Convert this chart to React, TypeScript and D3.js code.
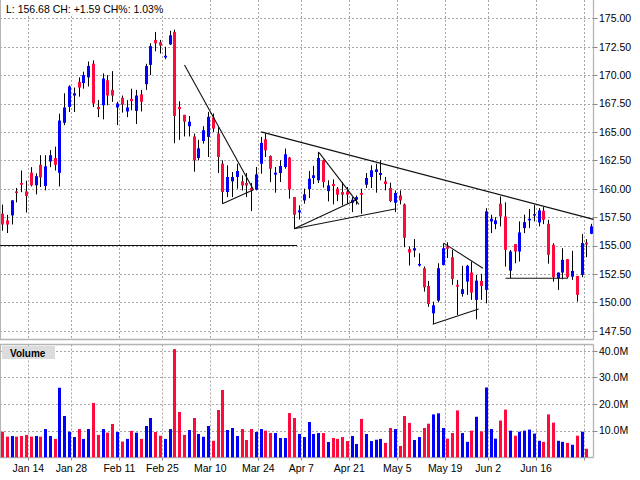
import React from 'react';
import * as d3 from 'd3';

const opens = [157.8,157.2,157.65,159.76,160.5,159.76,161.41,160.3,162.1,160.24,162.4,162.7,161.4,165.8,167.2,168.2,169.4,169.3,169.8,171.0,167.2,167.35,169.55,168.7,167.15,168.0,166.8,167.9,166.85,168.3,169.2,170.9,173.1,172.9,171.55,172.7,173.8,167.2,166.5,165.5,164.6,162.7,164.2,164.56,166.26,164.85,162.2,159.71,160.65,161.03,160.65,160.5,160.06,159.91,162.2,164.35,162.88,161.24,161.38,161.91,162.74,159.26,157.91,158.97,159.97,160.94,160.74,162.5,159.79,160.41,160.0,159.71,159.76,158.76,159.03,159.62,160.35,161.03,161.47,161.21,160.65,160.06,158.76,159.41,158.62,154.68,154.56,153.24,153.0,151.44,149.03,150.15,153.29,154.91,153.97,151.53,150.74,151.82,152.62,150.21,151.88,151.09,157.12,156.88,158.68,157.56,152.79,155.12,154.47,156.53,157.21,157.65,157.03,158.06,156.91,155.06,152.12,152.62,153.79,152.26,152.32,152.41,155.25,156.03];
const highs = [158.6,157.7,159.0,160.06,161.6,160.7,161.9,161.35,162.95,162.95,163.4,163.7,166.6,168.4,169.1,168.9,169.8,170.3,171.2,171.3,167.8,170.15,170.0,170.35,167.65,168.2,167.8,168.8,168.7,168.7,171.0,172.8,173.8,173.1,172.5,173.9,174.0,167.7,166.5,166.4,164.85,164.3,165.5,166.76,166.62,165.44,162.5,162.06,161.47,162.2,161.18,161.38,160.5,161.91,164.56,164.85,162.94,161.91,162.5,163.53,162.79,159.26,158.53,160.0,161.56,162.0,163.24,162.56,160.74,160.82,160.15,160.59,160.15,159.26,159.4,160.0,161.38,162.06,162.2,162.5,161.03,160.53,159.85,159.85,158.7,154.91,155.56,154.32,153.15,151.88,150.06,153.44,155.2,155.29,154.62,151.97,153.21,153.29,153.59,152.41,152.5,158.29,157.71,157.5,159.32,158.8,154.6,155.12,157.12,157.71,158.21,158.59,158.29,158.38,157.26,155.2,152.62,154.76,153.79,154.53,152.32,156.0,155.56,156.91];
const lows = [156.3,156.1,156.85,158.8,159.7,157.9,160.2,159.5,160.15,159.85,161.9,161.6,160.2,165.6,166.75,166.75,168.1,168.8,169.0,167.2,166.3,166.1,167.35,167.65,165.6,166.7,166.3,166.9,165.7,166.8,168.7,170.0,172.1,171.9,171.4,172.65,164.0,164.3,164.6,164.6,161.5,162.5,163.97,162.79,165.0,161.38,158.68,159.26,159.26,160.0,159.85,159.26,158.03,159.85,161.32,162.79,160.59,159.65,160.59,161.76,159.12,156.47,157.29,158.68,159.18,160.41,160.5,160.09,158.88,158.62,158.91,158.53,158.68,157.94,158.6,157.79,160.06,160.06,159.65,160.74,159.85,158.82,157.94,158.62,154.85,153.24,153.97,153.15,150.94,149.6,148.09,150.0,153.24,153.9,151.53,148.88,150.5,150.65,150.21,148.5,150.21,149.91,156.09,156.44,156.68,153.15,152.12,153.44,153.59,156.09,156.53,157.12,156.68,156.88,153.4,151.82,151.09,152.03,152.12,151.97,150.06,152.21,153.97,156.0];
const closes = [156.85,156.85,158.97,159.62,160.35,159.35,160.3,161.1,161.0,161.97,162.95,162.1,166.0,167.15,169.0,168.4,168.9,170.0,170.8,167.5,167.0,169.7,168.2,168.2,167.5,167.4,167.15,167.7,168.2,167.65,170.8,172.55,172.8,172.6,171.7,173.5,166.4,167.0,165.9,165.9,162.5,163.55,165.15,166.32,165.29,162.79,159.71,161.03,161.03,161.56,160.29,160.29,159.85,161.26,164.03,163.38,161.76,161.41,162.0,163.03,159.94,157.71,158.09,159.5,160.88,161.18,162.71,160.59,160.29,160.24,159.47,159.47,159.47,159.03,159.26,159.47,160.94,161.62,161.7,161.38,160.41,158.91,159.62,158.97,155.68,154.38,154.76,153.38,151.32,149.85,149.74,153.0,154.76,154.71,152.06,151.38,151.15,153.21,150.85,151.91,151.44,158.0,157.35,157.21,157.56,154.62,154.47,154.47,156.15,157.06,157.35,157.76,158.09,157.26,154.18,152.21,152.62,153.74,152.21,152.76,150.65,155.21,155.09,156.68];
const volumes = [9.6,7.75,8.0,7.75,8.0,8.4,7.75,8.0,7.75,10.6,8.0,6.9,26.1,15.5,9.6,7.6,10.6,6.9,10.6,20.4,8.4,10.6,9.25,12.5,9.5,5.9,6.9,9.9,9.25,6.9,11.75,14.75,9.5,8.1,6.9,10.6,40.6,17.0,8.4,10.25,14.75,8.75,7.7,11.75,6.2,17.75,25.25,10.25,11.0,8.0,10.6,6.5,10.6,9.5,10.6,10.0,9.1,9.1,7.25,7.25,16.6,14.75,8.75,7.6,13.25,8.75,9.1,9.1,5.75,7.25,6.9,7.6,6.1,8.0,5.0,14.4,8.75,6.1,6.6,6.9,5.4,11.0,10.6,4.25,15.5,12.9,6.5,7.6,11.0,12.6,16.1,16.5,11.0,7.0,9.1,17.6,9.1,5.8,10.0,15.2,9.7,26.2,10.6,7.0,13.8,17.9,10.0,8.1,9.6,10.0,10.4,8.9,6.2,5.8,16.1,13.0,6.2,5.8,5.4,4.7,8.1,9.6,3.2,0];

const priceTicks = [147.5,150,152.5,155,157.5,160,162.5,165,167.5,170,172.5,175];
const volumeTicks = [10,20,30,40];
const dateLabels = ['Jan 14','Jan 28','Feb 11','Feb 25','Mar 10','Mar 24','Apr 7','Apr 21','May 5','May 19','Jun 2','Jun 16',''];
const dateIndex = [6,15,25,34,44,54,63,73,83,93,102,112,122];

// trend lines: [startIndex, startPrice, endIndex, endPrice]
const trendLines = [
  [-0.5,155.0,61.6,155.0],
  [38.1,170.88,52.5,159.9],
  [46.0,158.68,52.5,159.9],
  [54.1,165.0,123.5,157.3],
  [61.0,156.47,74.1,159.06],
  [61.0,156.47,82.3,158.24],
  [66.2,163.18,74.5,158.62],
  [92.2,155.21,100.4,153.0],
  [89.9,148.06,99.5,149.41],
  [105.1,152.12,118.1,152.12],
];

const BLUE = '#0000ff';
const RED = '#ff0a3c';
const GRID = '#a6a6a6';
const FRAME = '#b4b4b4';
const FONT = '"Liberation Sans", Arial, sans-serif';

export default function App() {
  const W = 640, H = 480;
  const plotRight = 593.5;
  const pTop = 0, pBottom = 339;
  const vTop = 344.5, vBottom = 457.5;
  const x = d3.scaleLinear().domain([0, 123]).range([2, 591.2]);
  const yP = d3.scaleLinear().domain([147.5, 175]).range([330.7, 18.3]);
  const yV = d3.scaleLinear().domain([0, 40]).range([457.3, 350.7]);
  const idx = d3.range(opens.length);
  const fmt = d3.format('.2f');

  return (
    <svg width={W} height={H} style={{ position: 'absolute', left: 0, top: 0, background: '#fff' }} fontFamily={FONT}>
      <rect x={0} y={0} width={W} height={H} fill="#fff" />
      {/* price gridlines */}
      {priceTicks.map((p) => (
        <line key={'pg' + p} x1={0} x2={plotRight} y1={Math.round(yP(p)) + 0.5} y2={Math.round(yP(p)) + 0.5}
          stroke={GRID} strokeDasharray="2,2" />
      ))}
      {volumeTicks.map((v) => (
        <line key={'vg' + v} x1={0} x2={plotRight} y1={Math.round(yV(v)) + 0.5} y2={Math.round(yV(v)) + 0.5}
          stroke={GRID} strokeDasharray="2,2" />
      ))}
      {dateIndex.map((d) => {
        const gx = Math.round(x(d - 0.5)) + 0.5;
        return (
          <g key={'dg' + d}>
            <line x1={gx} x2={gx} y1={pTop} y2={pBottom} stroke={GRID} strokeDasharray="2,2" />
            <line x1={gx} x2={gx} y1={vTop} y2={vBottom} stroke={GRID} strokeDasharray="2,2" />
            <line x1={gx} x2={gx} y1={vBottom} y2={vBottom + 3} stroke="#888" />
          </g>
        );
      })}
      {/* frames */}
      <line x1={0.5} x2={0.5} y1={0} y2={pBottom} stroke={FRAME} />
      <line x1={0} x2={plotRight} y1={pBottom + 0.5} y2={pBottom + 0.5} stroke={FRAME} strokeWidth={1.3} />
      <line x1={0.5} x2={0.5} y1={vTop} y2={vBottom} stroke={FRAME} />
      <line x1={0} x2={plotRight} y1={vTop} y2={vTop} stroke={FRAME} strokeWidth={1.3} />
      <line x1={0} x2={plotRight} y1={vBottom} y2={vBottom} stroke={FRAME} strokeWidth={1.3} />
      <line x1={plotRight} x2={plotRight} y1={0} y2={pBottom + 1} stroke={FRAME} strokeWidth={1.3} />
      <line x1={plotRight} x2={plotRight} y1={vTop} y2={vBottom} stroke={FRAME} strokeWidth={1.3} />

      {/* candles */}
      {idx.map((i) => {
        const up = closes[i] >= opens[i];
        const cx = Math.round(x(i));
        const top = yP(Math.max(opens[i], closes[i]));
        const bot = yP(Math.min(opens[i], closes[i]));
        return (
          <g key={'c' + i}>
            <line x1={cx + 0.5} x2={cx + 0.5} y1={yP(highs[i])} y2={yP(lows[i])} stroke="#000" strokeWidth={1} />
            <rect x={cx - 1} y={top} width={3} height={Math.max(1.5, bot - top)} fill={up ? BLUE : RED} />
          </g>
        );
      })}

      {/* trend lines */}
      {trendLines.map((t, k) => (
        <line key={'t' + k} x1={x(t[0])} y1={yP(t[1])} x2={x(t[2])} y2={yP(t[3])} stroke="#111" strokeWidth={1.1} />
      ))}

      {/* volume */}
      {idx.map((i) => {
        if (!volumes[i]) return null;
        const up = closes[i] >= opens[i];
        const cx = Math.round(x(i));
        return (
          <rect key={'v' + i} x={cx - 1} y={yV(volumes[i])} width={3} height={yV(0) - yV(volumes[i])}
            fill={up ? BLUE : RED} />
        );
      })}

      {/* header */}
      <rect x={1} y={0} width={164} height={16} fill="#fff" />
      <text x={6} y={13} fontSize={10.5} fill="#000">L: 156.68 CH: +1.59 CH%: 1.03%</text>

      {/* volume label */}
      <rect x={2} y={346} width={53} height={13} fill="#dcdcdc" />
      <text x={10} y={356.5} fontSize={10} fontWeight="bold" fill="#000">Volume</text>

      {/* right axis */}
      {priceTicks.map((p) => (
        <g key={'pl' + p}>
          <line x1={plotRight} x2={plotRight + 4} y1={Math.round(yP(p)) + 0.5} y2={Math.round(yP(p)) + 0.5} stroke="#888" />
          <text x={599} y={yP(p) + 3.8} fontSize={10.5} fill="#000">{fmt(p)}</text>
        </g>
      ))}
      {volumeTicks.map((v) => (
        <g key={'vl' + v}>
          <line x1={plotRight} x2={plotRight + 4} y1={Math.round(yV(v)) + 0.5} y2={Math.round(yV(v)) + 0.5} stroke="#888" />
          <text x={599} y={yV(v) + 3.8} fontSize={10.5} fill="#000">{v.toFixed(1) + 'M'}</text>
        </g>
      ))}
      {/* date labels */}
      {dateIndex.map((d, k) => (
        <text key={'dl' + d} x={x(d - 0.5)} y={472} fontSize={10.5} textAnchor="middle" fill="#000">{dateLabels[k]}</text>
      ))}
    </svg>
  );
}
